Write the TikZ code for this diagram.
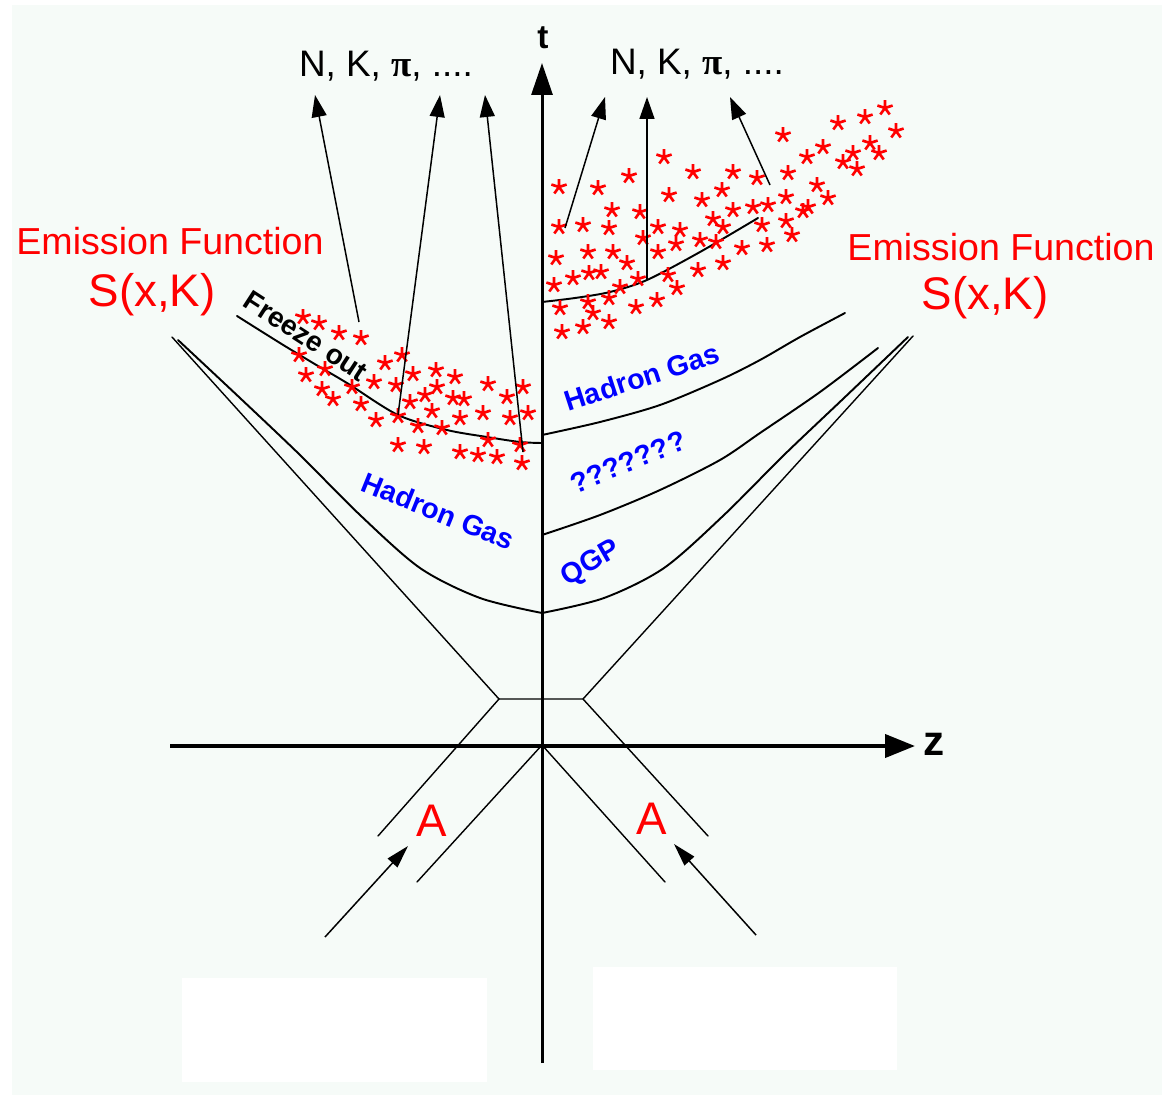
\documentclass[tikz,border=0pt]{standalone}
\usepackage{fontspec}
\setmainfont{Liberation Sans}
\newfontfamily\pifont{Liberation Serif}
\usetikzlibrary{arrows.meta,plotmarks}
\definecolor{paper}{RGB}{246,251,248}
\newcommand{\fsz}[1]{\fontsize{#1pt}{#1pt}\selectfont}

\begin{document}
\begin{tikzpicture}[x=0.02cm, y=-0.02cm,
  thinln/.style={line width=0.8pt, line cap=round},
  bndln/.style={line width=1.1pt, line cap=round},
  taxis/.style={-{Triangle[length=0.64cm,width=0.42cm]}, line width=1.7pt},
  zaxis/.style={-{Triangle[length=0.6cm,width=0.46cm]}, line width=2.3pt},
  emit/.style={-{Triangle[length=0.44cm,width=0.3cm]}, line width=0.85pt},
  beam/.style={-{Triangle[length=0.46cm,width=0.26cm]}, line width=0.85pt},
  redlbl/.style={text=red, inner sep=0pt},
  phase/.style={text=blue, font=\fsz{16.2}\bfseries, inner sep=0pt},
  stars/.style={red, line width=1.5pt}]
\fill[white] (0,0) rectangle (1162,1095);
\fill[paper] (12,5) rectangle (1162,1095);
\fill[white] (182,978) rectangle (487,1082);
\fill[white] (593,967) rectangle (897,1070);

% collision geometry
\coordinate (o)  at (542,745);
\coordinate (cl) at (499,699);
\coordinate (cr) at (583,699);
\draw[thinln] (172,337) -- (cl) -- (cr) -- (913,336);
\draw[thinln] (cl) -- (378,836);
\draw[thinln] (cr) -- (708,836);
\draw[thinln] (417,882) -- (o) -- (665,882);
\draw[beam] (325,937) -- (408,846);
\draw[beam] (756,935) -- (674,844);

% phase boundaries
\draw[bndln] plot[smooth] coordinates {(178,340) (240,398) (300,455) (360,515) (420,568) (480,598) (542,613)};
\draw[bndln] plot[smooth] coordinates {(542,613) (604,598) (664,568) (724,515) (784,455) (844,398) (908,337)};
\draw[bndln] plot[smooth] coordinates {(542,535) (600,515) (660,490) (720,460) (760,433) (820,392) (878,348)};
\draw[bndln] plot[smooth] coordinates {(542,435) (600,422) (660,405) (720,380) (760,360) (800,337) (845,313)};

% freeze-out surfaces
\draw[bndln] plot[smooth] coordinates {(237,316) (280,343) (313,363) (347,383) (398,415) (447,430) (487,437) (520,442) (542,443)};
\draw[bndln] plot[smooth] coordinates {(542,302) (575,298) (610,292) (647,280) (700,252) (758,218)};

\draw[stars] plot[only marks, mark=star, mark size=0.16cm] coordinates {
  (303,317) (319,323) (339,333) (361,338) (299,355) (325,369) (306,375)
  (322,389) (333,399) (352,387) (361,404) (374,382) (385,363) (402,355)
  (396,385) (413,374) (410,402) (425,395) (436,370) (437,387) (455,377)
  (432,411) (453,398) (464,399) (460,418) (488,384) (507,397) (523,387)
  (483,413) (510,418) (528,413) (376,420) (398,416) (418,426) (442,428)
  (488,440) (520,445) (398,445) (424,447) (460,452) (478,455) (497,457)
  (522,463)};
\draw[stars] plot[only marks, mark=star, mark size=0.16cm] coordinates {
  (559,187) (598,188) (629,176) (664,157) (693,172) (733,172) (722,190)
  (669,195) (702,200) (612,210) (640,212) (559,227) (583,225) (609,228)
  (643,238) (658,227) (680,230) (676,244) (700,240) (713,219) (723,227)
  (716,242) (733,210) (556,258) (588,252) (613,252) (627,263) (658,252)
  (698,270) (723,263) (554,285) (573,278) (589,273) (601,272) (620,287)
  (638,279) (668,275) (677,288) (560,308) (588,302) (593,313) (609,298)
  (636,307) (657,300) (562,332) (583,327) (609,322)
  (783,135) (838,123) (865,117) (885,108) (896,131) (823,147) (807,157)
  (870,143) (879,153) (853,153) (843,162) (857,169) (788,173) (757,178)
  (817,185) (828,198) (786,197) (768,205) (753,207) (808,207) (803,211)
  (786,221) (762,225) (792,235) (767,245) (742,248)};

% emitted particles
\draw[emit] (359,322) -- (315,95);
\draw[emit] (398,415) -- (440,95);
\draw[emit] (523,452) -- (485,95);
\draw[emit] (565,228) -- (605,97);
\draw[emit] (647,280) -- (647,97);
\draw[emit] (770,185) -- (730,97);

% axes
\draw[taxis] (542,1063) -- (542,63);
\draw[zaxis] (170,746) -- (915,746);
\node[font=\bfseries\fsz{19}] (tlbl) at (543,38) {t};
\node[font=\bfseries\fsz{24}] (zlbl) at (934,744) {z};

\node[font=\fsz{21}] (partL) at (386,66) {N, K, {\pifont\bfseries π}, ....};
\node[font=\fsz{21}] (partR) at (697,64) {N, K, {\pifont\bfseries π}, ....};
\node[redlbl, font=\fsz{21.4}] (emitL) at (170,241) {Emission Function};
\node[redlbl, font=\fsz{26}] (sxkL) at (152,295) {S(x,K)};
\node[redlbl, font=\fsz{21.4}] (emitR) at (1001,247) {Emission Function};
\node[redlbl, font=\fsz{26}] (sxkR) at (985,298) {S(x,K)};
\node[font=\bfseries\fsz{16}, inner sep=0pt, rotate=-33] (frz) at (306,336) {Freeze out};
\node[phase, rotate=-22] (hgL) at (438,511) {Hadron Gas};
\node[phase, rotate=18] (hgR) at (642,377) {Hadron Gas};
\node[phase, rotate=22] (mixd) at (628,462) {???????};
\node[phase, rotate=30] (qgp) at (591,564) {QGP};
\node[redlbl, font=\fsz{26}] (nucL) at (432,821) {A};
\node[redlbl, font=\fsz{26}] (nucR) at (652,819) {A};
\end{tikzpicture}
\end{document}
